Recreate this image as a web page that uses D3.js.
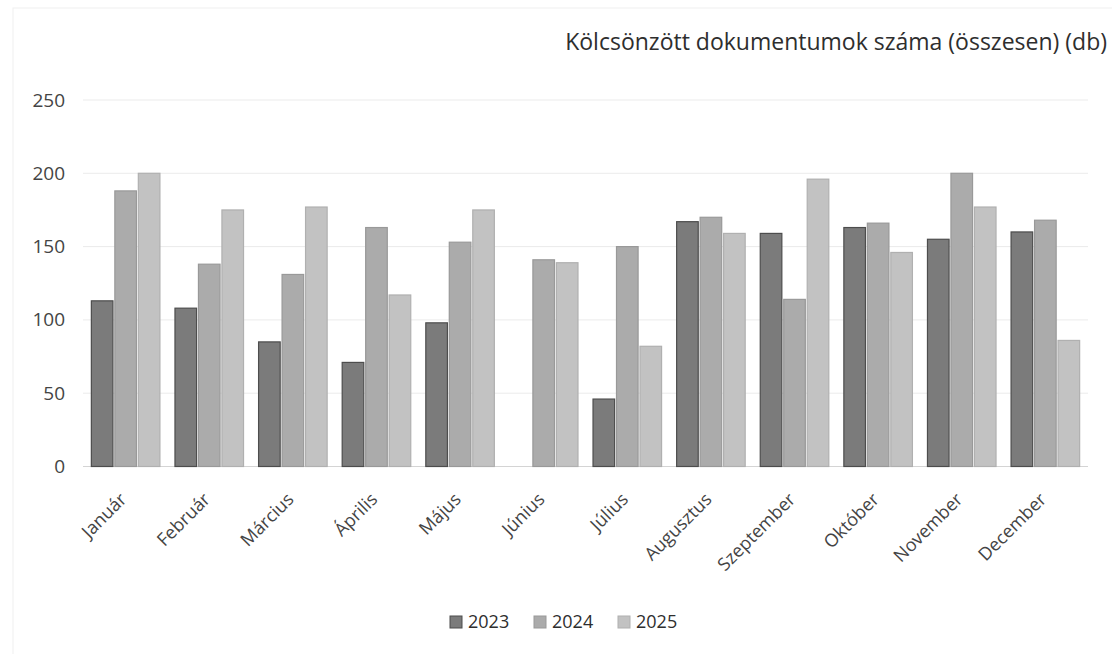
<!DOCTYPE html>
<html>
<head>
<meta charset="utf-8">
<script src="https://cdn.jsdelivr.net/npm/d3@7"></script>
<style>
  body { margin: 0; background: #fff; }
  text { font-family: "Open Sans", "Noto Sans", sans-serif; }
</style>
</head>
<body>
<div class="chart"></div>
<script>
// chart data
var months = ['Január', 'Február', 'Március', 'Április', 'Május', 'Június',
              'Július', 'Augusztus', 'Szeptember', 'Október', 'November', 'December'];
var years = ['2023', '2024', '2025'];
var values2023 = [113, 108, 85, 71, 98, null, 46, 167, 159, 163, 155, 160];
var values2024 = [188, 138, 131, 163, 153, 141, 150, 170, 114, 166, 200, 168];
var values2025 = [200, 175, 177, 117, 175, 139, 82, 159, 196, 146, 177, 86];
var yTicks = [0, 50, 100, 150, 200, 250];
var title = 'Kölcsönzött dokumentumok száma (összesen) (db)';

var width = 1112, height = 654;
var plotLeft = 83, plotRight = 1088, plotTop = 100, plotBottom = 466.5;

var series = [values2023, values2024, values2025];
var fills = ['#7b7b7b', '#ababab', '#c2c2c2'];
var strokes = ['#4d4d4d', '#999999', '#b0b0b0'];

var data = [];
months.forEach(function(m, i) {
  years.forEach(function(yr, j) {
    if (series[j][i] != null) data.push({ month: m, year: yr, value: series[j][i] });
  });
});

var svg = d3.select('.chart').append('svg').attr('width', width).attr('height', height);

// faint page frame from the scan
svg.append('rect')
  .attr('x', 13).attr('y', 8).attr('width', 1130).attr('height', 700)
  .attr('fill', 'none').attr('stroke', '#efefef');

var x0 = d3.scaleBand().domain(months).range([plotLeft, plotRight])
  .paddingInner(0.18).paddingOuter(0.1);
var x1 = d3.scaleBand().domain(years).range([0, x0.bandwidth()]).paddingInner(0.08);
var y = d3.scaleLinear().domain([0, 250]).range([plotBottom, plotTop]);

// gridlines
svg.append('g').selectAll('line').data(yTicks).enter().append('line')
  .attr('x1', plotLeft).attr('x2', plotRight)
  .attr('y1', function(d) { return y(d); }).attr('y2', function(d) { return y(d); })
  .attr('stroke', function(d) { return d == 0 ? '#d4d4d4' : '#ebebeb'; })
  .attr('stroke-width', 1);

// y axis labels
var yAxis = svg.append('g').attr('transform', 'translate(' + (plotLeft - 18) + ',0)')
  .call(d3.axisLeft(y).tickValues(yTicks).tickSize(0).tickPadding(0));
yAxis.select('.domain').remove();
yAxis.selectAll('text')
  .attr('font-size', 19).attr('fill', '#444')
  .style('font-family', '"Open Sans", sans-serif');

// bars
svg.append('g').selectAll('rect').data(data).enter().append('rect')
  .attr('x', function(d) { return x0(d.month) + x1(d.year); })
  .attr('y', function(d) { return y(d.value); })
  .attr('width', x1.bandwidth())
  .attr('height', function(d) { return y(0) - y(d.value); })
  .attr('fill', function(d) { return fills[years.indexOf(d.year)]; })
  .attr('stroke', function(d) { return strokes[years.indexOf(d.year)]; })
  .attr('stroke-width', 1.2);

// x axis labels, rotated
var xAxis = svg.append('g').attr('transform', 'translate(0,' + plotBottom + ')')
  .call(d3.axisBottom(x0).tickSize(0).tickPadding(0));
xAxis.select('.domain').remove();
xAxis.selectAll('text')
  .attr('font-size', 18).attr('fill', '#444')
  .attr('text-anchor', 'end')
  .attr('dy', 0)
  .attr('transform', 'translate(2,34) rotate(-45)')
  .style('font-family', '"Open Sans", sans-serif');

// title
svg.append('text')
  .attr('x', 1107).attr('y', 50)
  .attr('text-anchor', 'end')
  .attr('font-size', 23).attr('fill', '#2e2e2e')
  .text(title);

// legend
var legend = svg.append('g').selectAll('g').data(years).enter().append('g')
  .attr('transform', function(d, i) { return 'translate(' + (450 + i * 84) + ',616)'; });
legend.append('rect')
  .attr('width', 12).attr('height', 12)
  .attr('fill', function(d, i) { return fills[i]; })
  .attr('stroke', function(d, i) { return strokes[i]; });
legend.append('text')
  .attr('x', 18).attr('y', 12)
  .attr('font-size', 18).attr('fill', '#2e2e2e')
  .text(function(d) { return d; });
</script>
</body>
</html>
